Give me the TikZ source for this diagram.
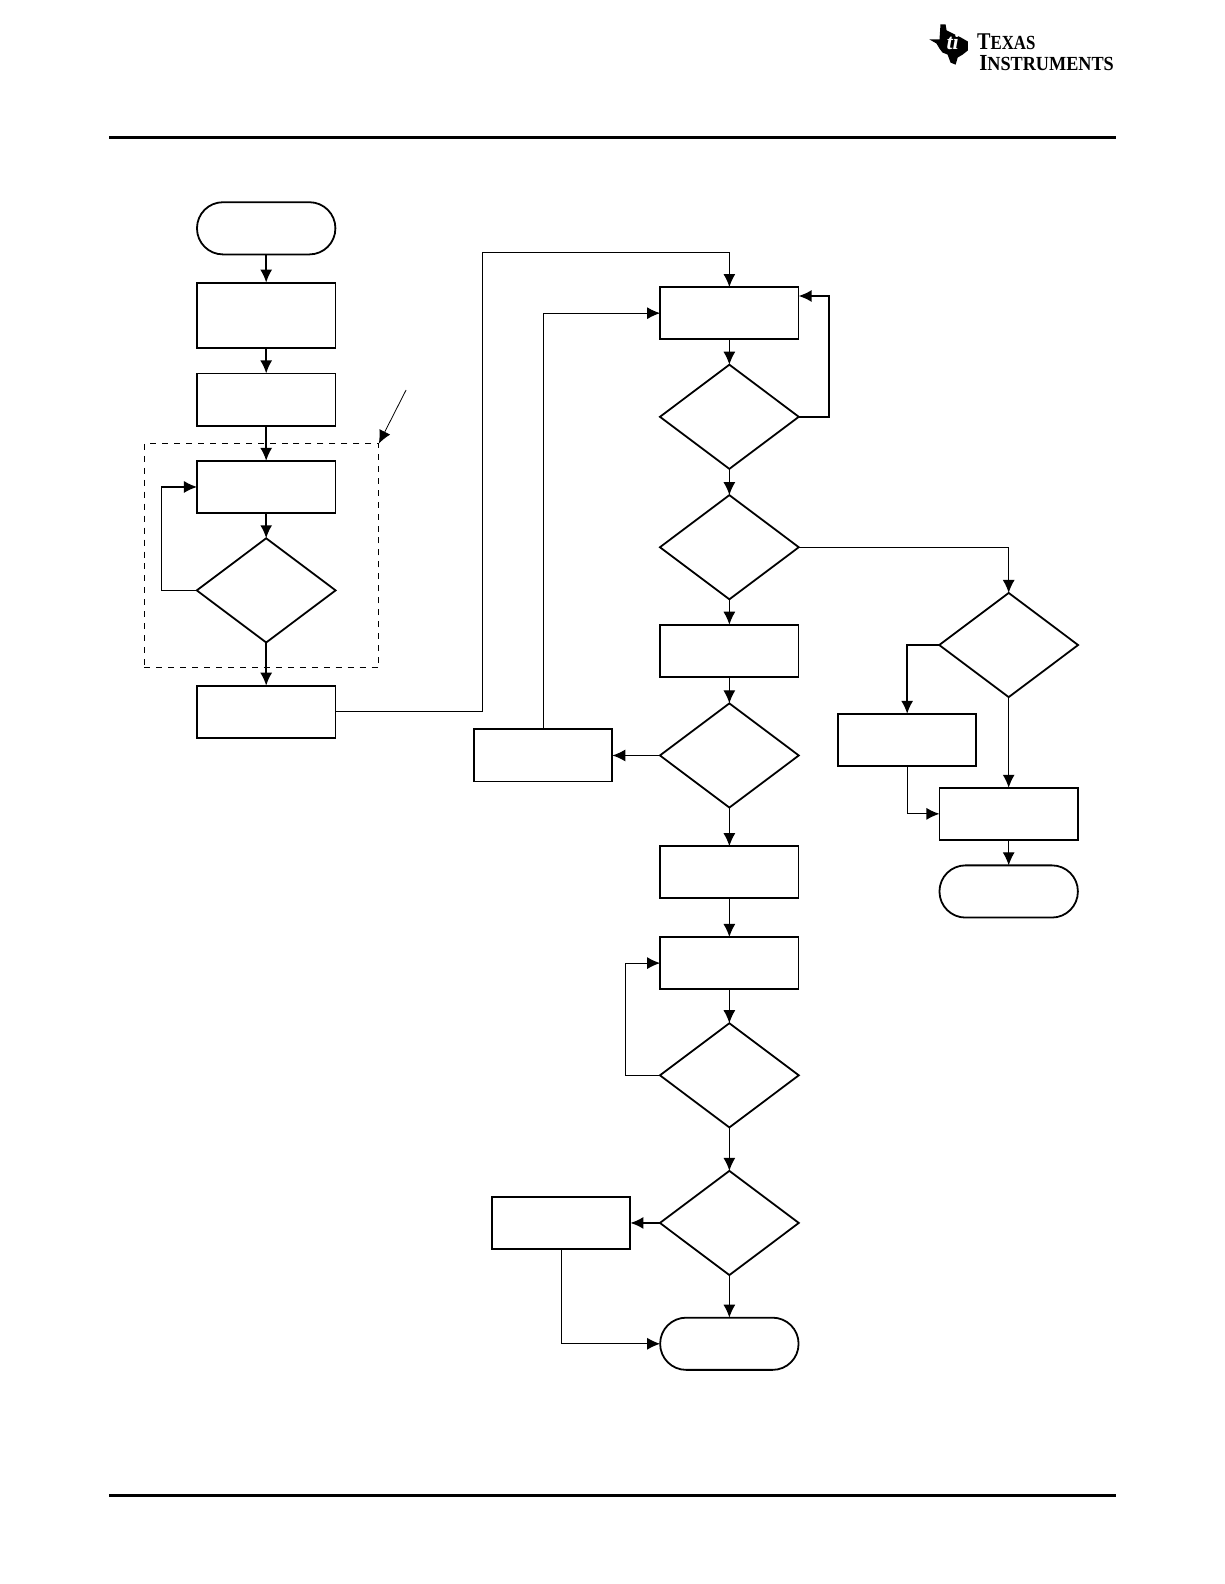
\documentclass[tikz,border=0pt]{standalone}
\usepackage{fontspec}
\setmainfont{Liberation Serif}
\usetikzlibrary{positioning,calc,arrows.meta,shapes.geometric}

\tikzset{
	>={Latex[length=6.5bp,width=6bp]},
	stepbox/.style={draw, line width=0.9pt, minimum width=69.2bp, minimum height=26.1bp, inner sep=0pt, outer sep=0pt},
	testbox/.style={draw, diamond, line width=0.9pt, minimum width=69.4bp, minimum height=52.1bp, inner sep=0pt, outer sep=0pt},
	endbox/.style={stepbox, rounded corners=13bp},
	rulebar/.style={line width=1.5pt},
	link/.style={->, line width=0.9pt},
	longlink/.style={->, line width=0.6pt},
}

\begin{document}
\begin{tikzpicture}[x=0.505bp, y=-0.505bp]
	\useasboundingbox (0,0) rectangle (1212,1568);
	% page rules
	\coordinate (TL) at (108,136);
	\coordinate (TR) at (1105,136);
	\coordinate (BL) at (108,1480);
	\coordinate (BR) at (1105,1480);
	\draw[rulebar] (TL) -- (TR);
	\draw[rulebar] (BL) -- (BR);

	% logo
	\path[fill=black] (931,24) -- (936,24) -- (937,30) -- (951,37) -- (958,41) -- (958,50) -- (953,54)
		-- (948,57) -- (946,64) -- (941,62) -- (938,54) -- (933,52) -- (930,48) -- (927,43) -- (920,39) -- (930,39) -- cycle;
	\node[text=white, inner sep=0pt] (Lti) at (943,42) {\fontsize{11bp}{11bp}\selectfont\bfseries\itshape ti};
	\node[anchor=base west, inner sep=0pt, xscale=0.84] (L1) at (967,48.5) {\fontsize{12bp}{12bp}\selectfont\bfseries T\fontsize{10bp}{10bp}\selectfont EXAS};
	\node[anchor=base west, inner sep=0pt, xscale=0.91] (L2) at (969,69.5) {\fontsize{11.5bp}{11.5bp}\selectfont\bfseries I\fontsize{10bp}{10bp}\selectfont NSTRUMENTS};

	% left column
	\node[endbox] (S) at (263.5,226) {};
	\node[stepbox, minimum height=32.8bp, below=14.1bp of S] (P1) {};
	\node[stepbox, below=12.6bp of P1] (P2) {};
	\node[stepbox, below=17.6bp of P2] (P3) {};
	\node[testbox, below=12.6bp of P3] (D1) {};
	\node[stepbox, below=21.6bp of D1] (P4) {};
	\node[draw, dashed, line width=0.5pt, minimum width=117.2bp, minimum height=112.1bp, inner sep=0pt, outer sep=0pt] (G) at (259,550) {};
	\coordinate (N) at (402,386);
	\coordinate[left=17.7bp of P3] (A);

	% middle column
	\node[stepbox] (R1) at (722,310) {};
	\node[testbox, below=12.7bp of R1] (D2) {};
	\node[testbox, below=13.1bp of D2] (D3) {};
	\node[stepbox, below=12.7bp of D3] (R2) {};
	\node[testbox, below=13.2bp of R2] (D4) {};
	\node[stepbox, below=19.3bp of D4] (R3) {};
	\node[stepbox, below=19.3bp of R3] (R4) {};
	\node[testbox, below=17bp of R4] (D5) {};
	\node[testbox, below=21.7bp of D5] (D6) {};
	\node[endbox, below=21.3bp of D6] (E1) {};
	\node[stepbox, left=23.8bp of D4] (R5) {};
	\node[stepbox, left=14.8bp of D6] (R6) {};
	\coordinate (B) at (478,250);
	\coordinate (C) at (821,293);
	\coordinate[left=17.2bp of R4] (F);

	% right column
	\node[testbox] (D7) at (998.5,638.5) {};
	\node[stepbox] (Q1) at (898,732.5) {};
	\node[stepbox, below=45.3bp of D7] (Q2) {};
	\node[endbox, below=12.7bp of Q2] (E2) {};

	\draw[link] (S) -- (P1);
	\draw[link] (P1) -- (P2);
	\draw[link] (P2) -- (P3);
	\draw[link] (P3) -- (D1);
	\draw[link] (D1) -- (P4);
	\draw[longlink] (D1.west) -| (A) -- (P3.west);
	\draw[->, line width=0.4pt] (N) -- (G.north east);
	\draw[longlink] (P4.east) -| (B) -| (R1.north);

	\draw[longlink] (R1) -- (D2);
	\draw[longlink] (D2) -- (D3);
	\draw[longlink] (D3) -- (R2);
	\draw[longlink] (R2) -- (D4);
	\draw[longlink] (D4) -- (R3);
	\draw[longlink] (R3) -- (R4);
	\draw[longlink] (R4) -- (D5);
	\draw[longlink] (D5) -- (D6);
	\draw[longlink] (D6) -- (E1);
	\draw[link] (D2.east) -| (C) -- (C -| R1.east);
	\draw[longlink] (D4.west) -- (R5.east);
	\draw[longlink] (R5.north) |- (R1.west);
	\draw[longlink] (D5.west) -| (F) -- (R4.west);
	\draw[link] (D6.west) -- (R6.east);
	\draw[longlink] (R6.south) |- (E1.west);

	\draw[longlink] (D3.east) -| (D7.north);
	\draw[link] (D7.west) -| (Q1.north);
	\draw[longlink] (Q1.south) |- (Q2.west);
	\draw[longlink] (D7) -- (Q2);
	\draw[longlink] (Q2) -- (E2);
\end{tikzpicture}
\end{document}
